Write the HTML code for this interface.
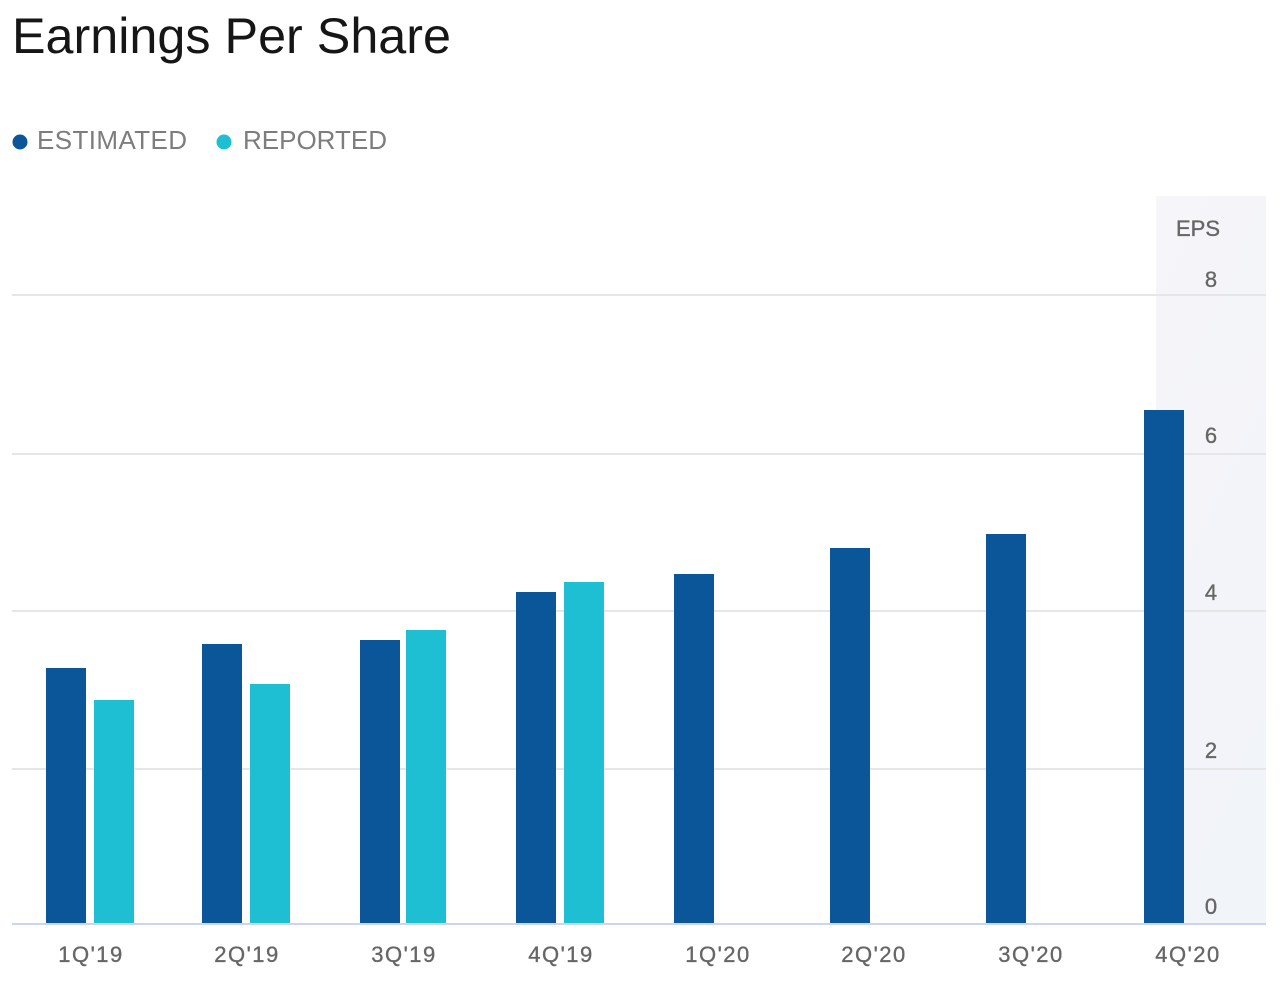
<!DOCTYPE html>
<html><head><meta charset="utf-8"><style>
html,body{margin:0;padding:0;background:#fff;}
svg{display:block;}
text{font-family:"Liberation Sans",sans-serif;}
</style></head><body>
<svg width="1282" height="984" viewBox="0 0 1282 984" xmlns="http://www.w3.org/2000/svg">
<defs>
<linearGradient id="pg" x1="0" y1="0" x2="0.3" y2="1">
<stop offset="0" stop-color="#f6f5f9"/>
<stop offset="1" stop-color="#f1f4f9"/>
</linearGradient>
</defs>
<rect x="0" y="0" width="1282" height="984" fill="#fff"/>
<text x="12" y="53" font-size="50.5" fill="#161616" textLength="439" lengthAdjust="spacingAndGlyphs">Earnings Per Share</text>
<circle cx="20" cy="142" r="7.5" fill="#0b5699"/>
<text x="37" y="149" font-size="26" fill="#7d7d7d" letter-spacing="0.4">ESTIMATED</text>
<circle cx="224" cy="142" r="7.5" fill="#1fbfd3"/>
<text x="243" y="149" font-size="26" fill="#7d7d7d">REPORTED</text>
<rect x="1156" y="196" width="110" height="728" fill="url(#pg)"/>
<g fill="#e6e6e6">
<rect x="12" y="294" width="1254" height="2"/>
<rect x="12" y="453" width="1254" height="2"/>
<rect x="12" y="610" width="1254" height="2"/>
<rect x="12" y="768" width="1254" height="2"/>
</g>
<g fill="#0b5699">
<rect x="46" y="668" width="40" height="256"/>
<rect x="202" y="644" width="40" height="280"/>
<rect x="360" y="640" width="40" height="284"/>
<rect x="516" y="592" width="40" height="332"/>
<rect x="674" y="574" width="40" height="350"/>
<rect x="830" y="548" width="40" height="376"/>
<rect x="986" y="534" width="40" height="390"/>
<rect x="1144" y="410" width="40" height="514"/>
</g>
<g fill="#1fbfd3">
<rect x="94" y="700" width="40" height="224"/>
<rect x="250" y="684" width="40" height="240"/>
<rect x="406" y="630" width="40" height="294"/>
<rect x="564" y="582" width="40" height="342"/>
</g>
<rect x="12" y="923" width="1254" height="2" fill="#ccd6eb"/>
<g font-size="22" fill="#666" stroke="#666" stroke-width="0.35" text-anchor="middle">
<text x="1198" y="236">EPS</text>
<text x="1211" y="287">8</text>
<text x="1211" y="443">6</text>
<text x="1211" y="600">4</text>
<text x="1211" y="758">2</text>
<text x="1211" y="914">0</text>
</g>
<g font-size="22" fill="#666" stroke="#666" stroke-width="0.35" text-anchor="middle" letter-spacing="1.5">
<text x="91" y="962">1Q'19</text>
<text x="247" y="962">2Q'19</text>
<text x="404" y="962">3Q'19</text>
<text x="561" y="962">4Q'19</text>
<text x="718" y="962">1Q'20</text>
<text x="874" y="962">2Q'20</text>
<text x="1031" y="962">3Q'20</text>
<text x="1188" y="962">4Q'20</text>
</g>
</svg>
</body></html>
